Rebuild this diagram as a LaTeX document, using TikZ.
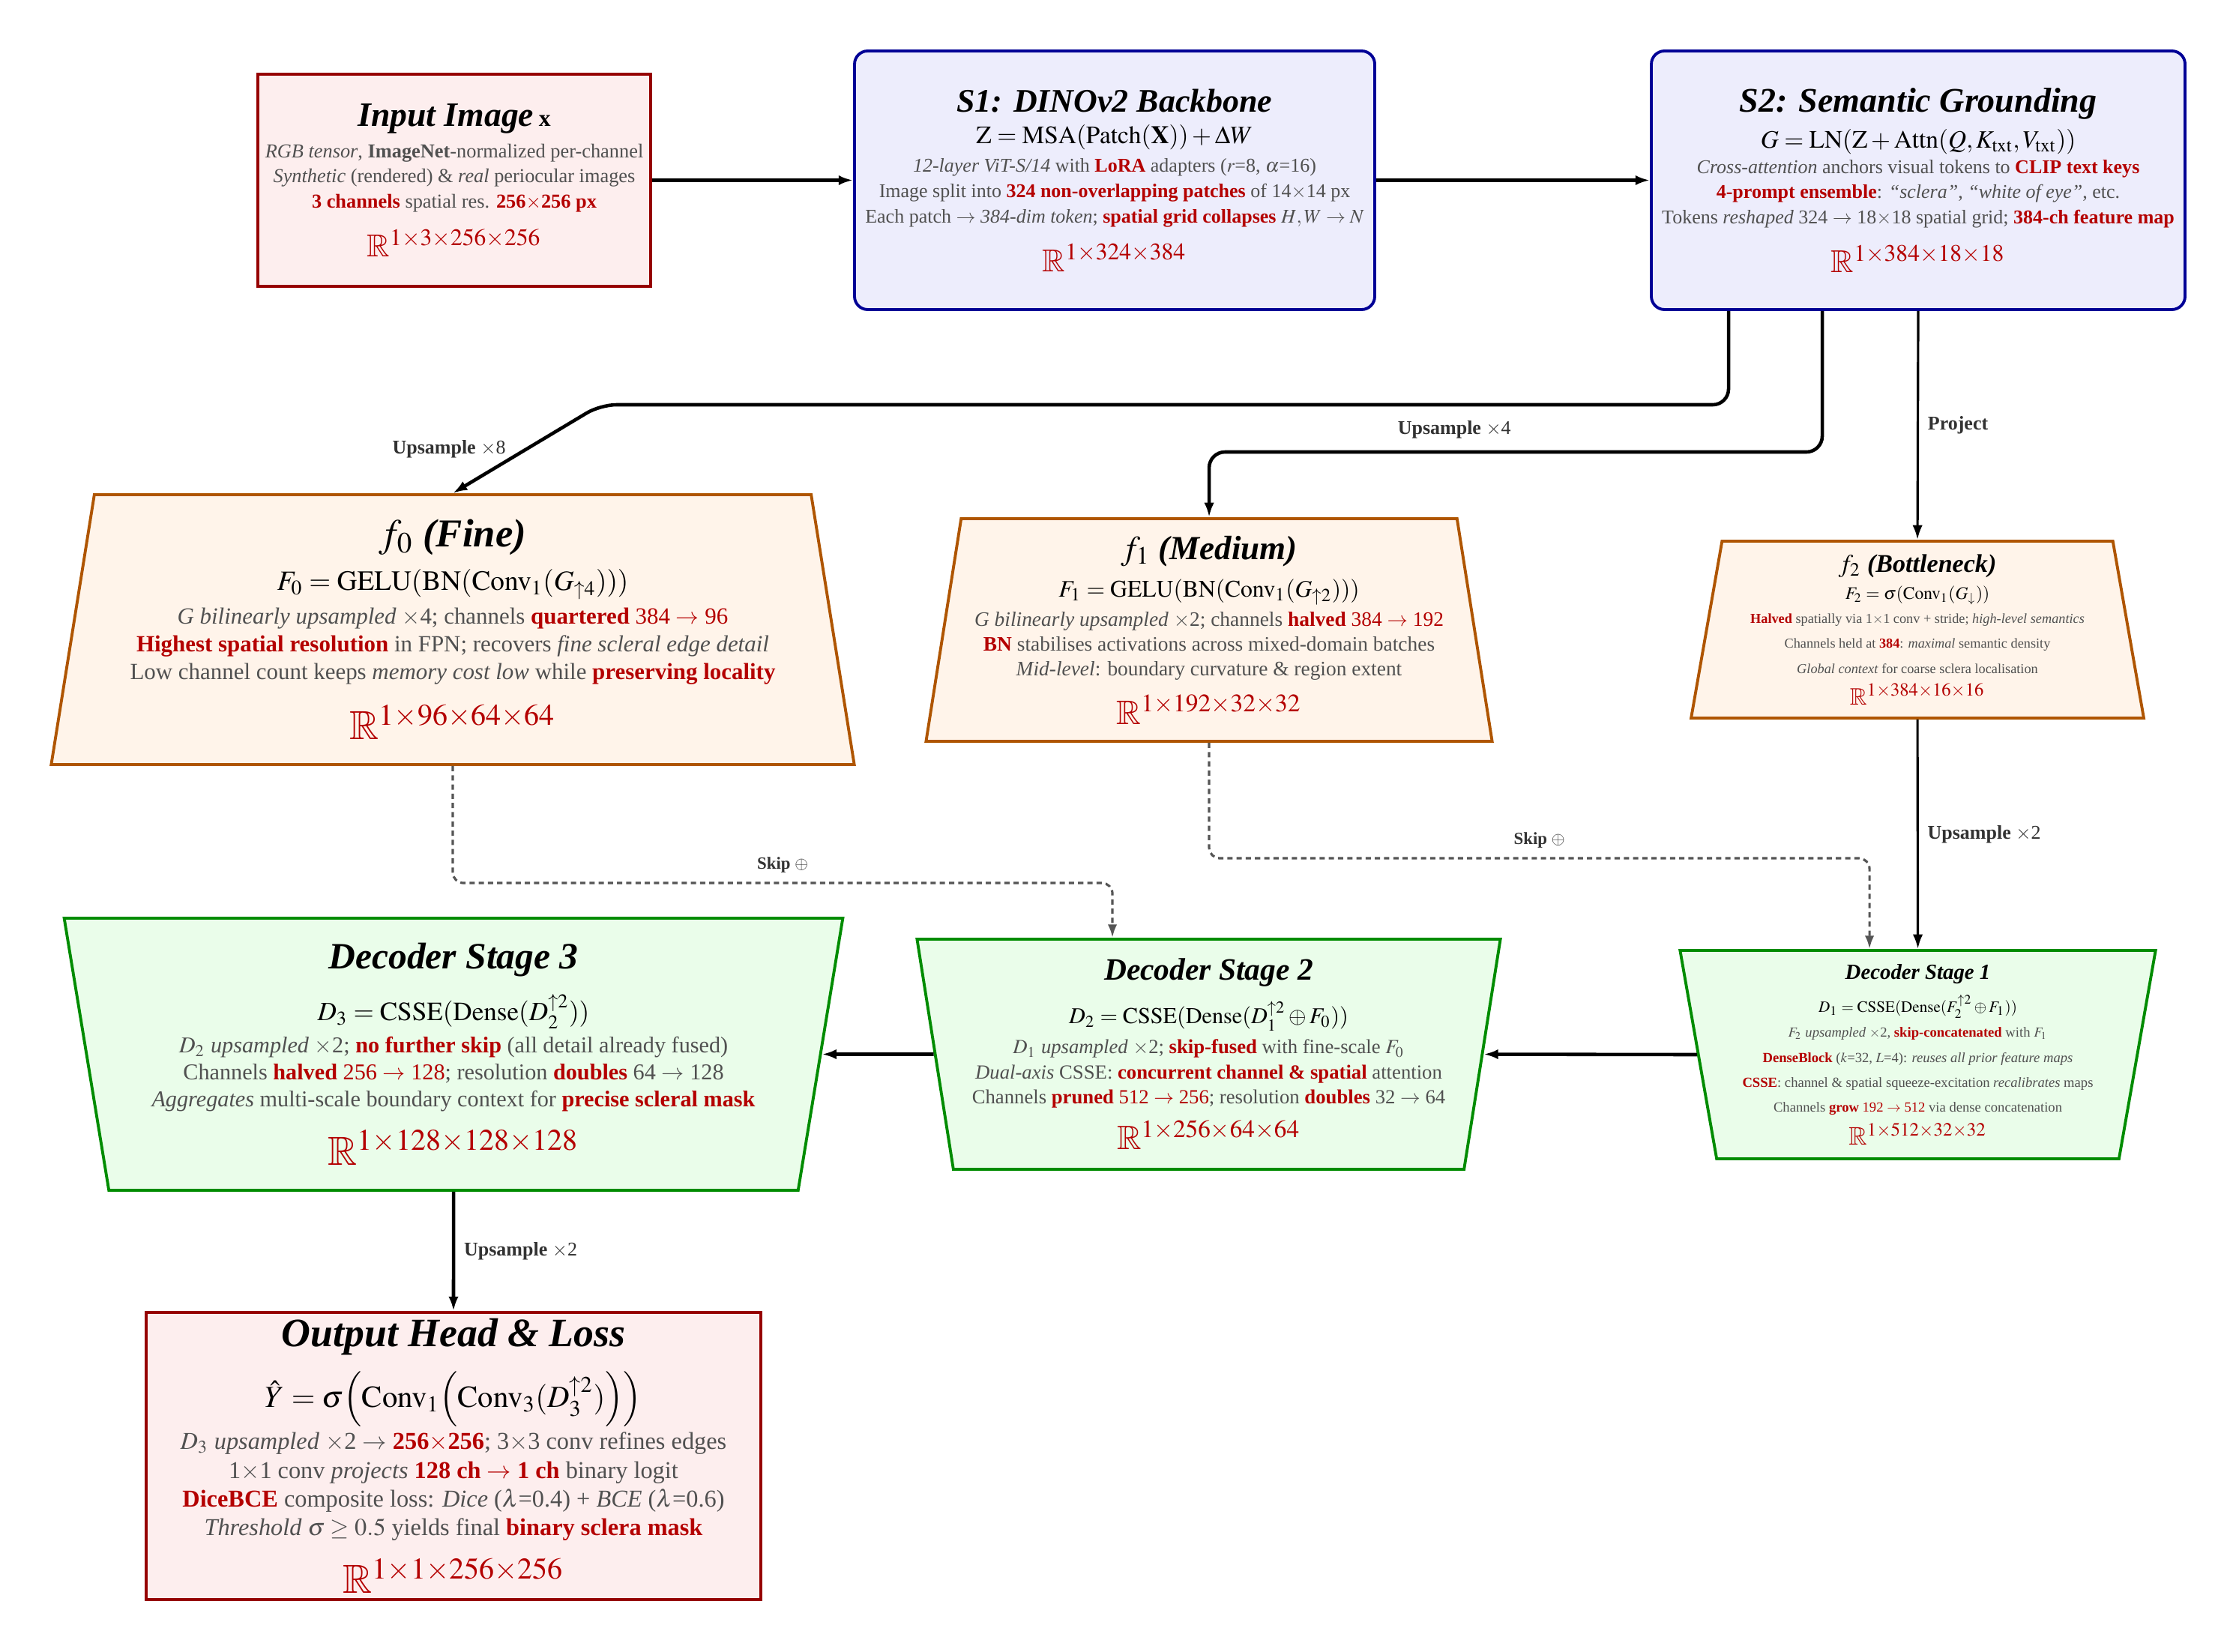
\documentclass[tikz,border=0pt]{standalone}
\usepackage{amsmath,amssymb}
\usepackage{mathptmx}
\usepackage[no-math]{fontspec}
\setmainfont{Liberation Serif}
\usepackage{tikz}
\usetikzlibrary{shapes.geometric,arrows.meta,positioning,calc}
\usepackage{xcolor}

\definecolor{outred}{RGB}{150,0,0}
\definecolor{outpink}{RGB}{253,238,238}
\definecolor{bbblue}{RGB}{0,0,150}
\definecolor{bblav}{RGB}{237,237,252}
\definecolor{fpnbrown}{RGB}{175,85,0}
\definecolor{fpncream}{RGB}{255,244,234}
\definecolor{decgreen}{RGB}{0,140,0}
\definecolor{decmint}{RGB}{234,253,234}
\definecolor{hlred}{RGB}{180,0,0}
\definecolor{bodygray}{RGB}{80,80,80}
\definecolor{lblgray}{RGB}{50,50,50}
\definecolor{skipgray}{RGB}{85,85,85}

\newcommand{\fsz}[2]{\fontsize{#1}{#2}\selectfont}
\newcommand{\hlt}[1]{\textcolor{hlred}{\textbf{#1}}}
\newcommand{\rdt}[1]{\textcolor{hlred}{#1}}
\newcommand{\boxttl}[2]{{\fsz{#1}{#1}\color{black}\bfseries\itshape #2}}
\newcommand{\boxeq}[2]{{\fsz{#1}{#1}\color{black}$#2$}}
\newcommand{\boxdim}[2]{{\fsz{#1}{#1}\color{hlred}$\mathbb{R}^{#2}$}}
\lineskiplimit=-40pt

\begin{document}
\begin{tikzpicture}[
  inbox/.style={draw=outred, fill=outpink, line width=1.1pt, align=center, inner sep=0pt, text=bodygray},
  bbbox/.style={draw=bbblue, fill=bblav, line width=1.1pt, rounded corners=5pt, align=center, inner sep=0pt, text=bodygray},
  fpnbox/.style={trapezium, trapezium stretches=true, trapezium left angle=80, trapezium right angle=80,
    draw=fpnbrown, fill=fpncream, line width=1.1pt, align=center, inner sep=0pt, text=bodygray},
  decbox/.style={fpnbox, trapezium left angle=100, trapezium right angle=100, draw=decgreen, fill=decmint},
  conn/.style={-{Latex[length=5.5pt,width=3.8pt]}, line width=1.3pt},
  thinconn/.style={conn, line width=0.9pt},
  skip/.style={-{Latex[length=5pt,width=3.5pt]}, line width=0.9pt, draw=skipgray, dash pattern=on 2pt off 1.5pt, rounded corners=4pt},
  lbl/.style={font=\fsz{7.4}{9}, text=lblgray},
  skiplbl/.style={font=\fsz{6.5}{8}, text=lblgray},
]
\useasboundingbox (0,0) rectangle (29.83,-22.03);

% input and backbone
\node[inbox, minimum width=5.24cm, minimum height=2.83cm, font=\fsz{7.5}{9.6}] (inp) at (6.06,-2.405) {%
  \boxttl{13}{Input Image} {\fsz{9}{9}\color{black}\bfseries x}\\[2.3pt]
  \textit{RGB tensor}, \textbf{ImageNet}-normalized per-channel\\
  \textit{Synthetic} (rendered) \& \textit{real} periocular images\\
  \hlt{3 channels} spatial res. \hlt{256$\times$256 px}\\[8.9pt]
  \boxdim{12}{1\times3\times256\times256}};

\node[bbbox, minimum width=6.94cm, minimum height=3.45cm, font=\fsz{7.4}{9.6}] (s1) at (14.87,-2.405) {%
  \boxttl{12.5}{S1: DINOv2 Backbone}\\[2.5pt]
  \boxeq{9.5}{\mathrm{Z}=\mathrm{MSA}(\mathrm{Patch}(\mathbf{X}))+\Delta W}\\[1.2pt]
  \textit{12-layer ViT-S/14} with \hlt{LoRA} adapters ($r$=8, $\alpha$=16)\\
  Image split into \hlt{324 non-overlapping patches} of 14$\times$14 px\\
  Each patch $\rightarrow$ \textit{384-dim token}; \hlt{spatial grid collapses} $H,W\rightarrow N$\\[8.9pt]
  \boxdim{12}{1\times324\times384}};

\node[bbbox, minimum width=7.12cm, minimum height=3.45cm, font=\fsz{7.4}{9.5}] (s2) at (25.59,-2.405) {%
  \boxttl{13.1}{S2: Semantic Grounding}\\[4.3pt]
  \boxeq{9.5}{G=\mathrm{LN}(\mathrm{Z}+\mathrm{Attn}(Q,K_{\mathrm{txt}},V_{\mathrm{txt}}))}\\[0.1pt]
  \textit{Cross-attention} anchors visual tokens to \hlt{CLIP text keys}\\
  \hlt{4-prompt ensemble}: \textit{``sclera''}, \textit{``white of eye''}, etc.\\
  Tokens \textit{reshaped} 324 $\rightarrow$ 18$\times$18 spatial grid; \hlt{384-ch feature map}\\[9.2pt]
  \boxdim{12}{1\times384\times18\times18}};

% feature pyramid
\node[fpnbox, minimum width=10.75cm, minimum height=3.6cm, font=\fsz{8.8}{10.5}] (f0) at (6.04,-8.40) {%
  {\fsz{15}{15}\color{black}$f_0$ \textbf{\textit{(Fine)}}}\\[6pt]
  \boxeq{10.6}{F_0=\mathrm{GELU}(\mathrm{BN}(\mathrm{Conv}_1(G_{\uparrow 4})))}\\[2.3pt]
  \textit{G bilinearly upsampled} $\times$4; channels \hlt{quartered} \rdt{384 $\rightarrow$ 96}\\
  \hlt{Highest spatial resolution} in FPN; recovers \textit{fine scleral edge detail}\\
  Low channel count keeps \textit{memory cost low} while \hlt{preserving locality}\\[12.3pt]
  \boxdim{15.4}{1\times96\times64\times64}};

\node[fpnbox, minimum width=7.56cm, minimum height=2.97cm, font=\fsz{7.8}{9.4}] (f1) at (16.13,-8.405) {%
  {\fsz{12.8}{12.8}\color{black}$f_1$ \textbf{\textit{(Medium)}}}\\[4.8pt]
  \boxeq{9}{F_1=\mathrm{GELU}(\mathrm{BN}(\mathrm{Conv}_1(G_{\uparrow 2})))}\\[1.7pt]
  \textit{G bilinearly upsampled} $\times$2; channels \hlt{halved} \rdt{384 $\rightarrow$ 192}\\
  \hlt{BN} stabilises activations across mixed-domain batches\\
  \textit{Mid-level}: boundary curvature \& region extent\\[9.1pt]
  \boxdim{12.9}{1\times192\times32\times32}};

\node[fpnbox, minimum width=6.04cm, minimum height=2.36cm, font=\fsz{5.2}{9.5}] (f2) at (25.58,-8.40) {%
  {\fsz{9.7}{9.7}\color{black}$f_2$ \textbf{\textit{(Bottleneck)}}}\\[0.7pt]
  \boxeq{6.7}{F_2=\sigma(\mathrm{Conv}_1(G_{\downarrow}))}\\[-0.4pt]
  \hlt{Halved} spatially via 1$\times$1 conv + stride; \textit{high-level semantics}\\
  Channels held at \hlt{384}: \textit{maximal} semantic density\\
  \textit{Global context} for coarse sclera localisation\\[2.4pt]
  \boxdim{9}{1\times384\times16\times16}};

% decoder
\node[decbox, minimum width=10.40cm, minimum height=3.63cm, font=\fsz{8.6}{10.2}] (dec3) at (6.05,-14.065) {%
  \boxttl{14.1}{Decoder Stage 3}\\[9.4pt]
  \boxeq{10}{D_3=\mathrm{CSSE}(\mathrm{Dense}(D_2^{\uparrow 2}))}\\[2pt]
  \textit{$D_2$ upsampled} $\times$2; \hlt{no further skip} (all detail already fused)\\
  Channels \hlt{halved} \rdt{256 $\rightarrow$ 128}; resolution \hlt{doubles} 64 $\rightarrow$ 128\\
  \textit{Aggregates} multi-scale boundary context for \hlt{precise scleral mask}\\[12pt]
  \boxdim{15.4}{1\times128\times128\times128}};

\node[decbox, minimum width=7.79cm, minimum height=3.07cm, font=\fsz{7.6}{9.4}] (dec2) at (16.125,-14.065) {%
  \boxttl{11.8}{Decoder Stage 2}\\[7.1pt]
  \boxeq{8.6}{D_2=\mathrm{CSSE}(\mathrm{Dense}(D_1^{\uparrow 2}\oplus F_0))}\\[2pt]
  \textit{$D_1$ upsampled} $\times$2; \hlt{skip-fused} with fine-scale $F_0$\\
  \textit{Dual-axis} CSSE: \hlt{concurrent channel \& spatial} attention\\
  Channels \hlt{pruned} \rdt{512 $\rightarrow$ 256}; resolution \hlt{doubles} 32 $\rightarrow$ 64\\[8.2pt]
  \boxdim{12.8}{1\times256\times64\times64}};

\node[decbox, minimum width=6.35cm, minimum height=2.78cm, font=\fsz{5.3}{9.5}] (dec1) at (25.585,-14.07) {%
  \boxttl{8.2}{Decoder Stage 1}\\[3pt]
  \boxeq{6}{D_1=\mathrm{CSSE}(\mathrm{Dense}(F_2^{\uparrow 2}\oplus F_1))}\\
  \textit{$F_2$ upsampled} $\times$2, \hlt{skip-concatenated} with $F_1$\\
  \hlt{DenseBlock} ($k$=32, $L$=4): \textit{reuses all prior feature maps}\\
  \hlt{CSSE}: channel \& spatial squeeze-excitation \textit{recalibrates} maps\\
  Channels \hlt{grow} \rdt{192 $\rightarrow$ 512} via dense concatenation\\[3pt]
  \boxdim{9.6}{1\times512\times32\times32}};

\node[inbox, minimum width=8.20cm, minimum height=3.83cm, font=\fsz{9.2}{10.9}] (out) at (6.05,-19.425) {%
  \boxttl{15.3}{Output Head \& Loss}\\[12pt]
  \boxeq{11.6}{\hat{Y}=\sigma\Bigl(\mathrm{Conv}_1\Bigl(\mathrm{Conv}_3(D_3^{\uparrow 2})\Bigr)\Bigr)}\\[5.2pt]
  \textit{$D_3$ upsampled} $\times$2 $\rightarrow$ \hlt{256$\times$256}; 3$\times$3 conv refines edges\\
  1$\times$1 conv \textit{projects} \hlt{128 ch $\rightarrow$ 1 ch} binary logit\\
  \hlt{DiceBCE} composite loss: \textit{Dice} ($\lambda$=0.4) + \textit{BCE} ($\lambda$=0.6)\\
  \textit{Threshold} $\sigma\geq 0.5$ yields final \hlt{binary sclera mask}\\[11pt]
  \boxdim{15.4}{1\times1\times256\times256}};

% main flow
\draw[conn] (inp.east) -- (s1.west);
\draw[conn] (s1.east) -- (s2.west);

% taps from S2
\draw[conn, rounded corners=6pt] ([xshift=-2.53cm]s2.south) |- ([shift={(1.97,1.18)}]f0.north)
  -- node[lbl, left=4pt, midway] {\textbf{Upsample} $\times$8} (f0.north);
\draw[conn, rounded corners=6pt] ([xshift=-1.28cm]s2.south) |- node[lbl, above=1pt, pos=0.8] {\textbf{Upsample} $\times$4}
  ([yshift=0.87cm]f1.north) -- (f1.north);
\draw[thinconn] (s2.south) -- node[lbl, right, midway] {\textbf{Project}} (f2.north);
\draw[thinconn] (f2.south) -- node[lbl, right, midway] {\textbf{Upsample} $\times$2} (dec1.north);

% skips
\draw[skip] (f1.south) |- node[skiplbl, above, pos=0.75] {\textbf{Skip} $\oplus$}
  ([xshift=-0.645cm, yshift=1.21cm]dec1.north) -- ([xshift=-0.645cm]dec1.north);
\draw[skip] (f0.south) |- node[skiplbl, above, pos=0.75] {\textbf{Skip} $\oplus$}
  ([xshift=-1.285cm, yshift=0.73cm]dec2.north) -- ([xshift=-1.285cm]dec2.north);

% decoder flow
\draw[conn] (dec1.west) -- (dec2.east);
\draw[conn] (dec2.west) -- (dec3.east);
\draw[conn] (dec3.south) -- node[lbl, right, midway] {\textbf{Upsample} $\times$2} (out.north);
\end{tikzpicture}
\end{document}
